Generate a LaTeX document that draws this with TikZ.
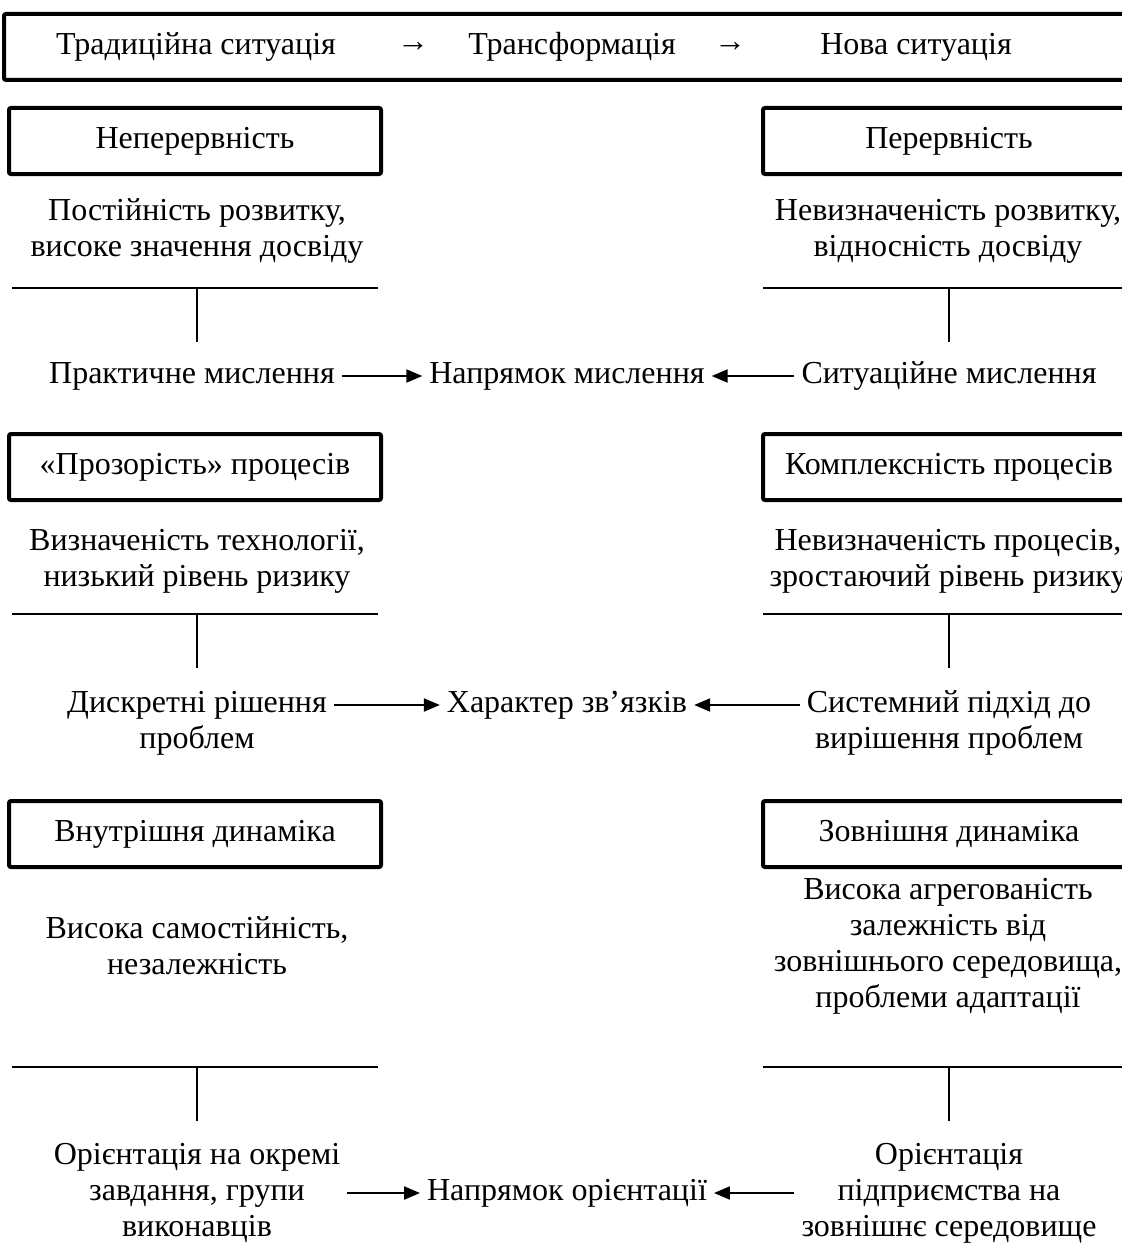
\documentclass[tikz,border=0pt]{standalone}
\usepackage{fontspec}
\setmainfont{Liberation Serif}
\usetikzlibrary{arrows.meta}

\tikzset{
  frame/.style={draw, line width=2pt, rounded corners=1pt, minimum width=186pt, minimum height=33pt},
  txt/.style={align=center},
  arr/.style={-{Triangle[length=8pt,width=6.5pt]}, line width=1pt},
  rule/.style={line width=1pt}
}

\begin{document}
\begin{tikzpicture}[x=0.5pt,y=-0.5pt,font=\fontsize{16}{18}\selectfont]

            \useasboundingbox (0,0) rectangle (1122,1252);
            \clip (0,0) rectangle (1122,1252);

            % top bar
            \node [draw, line width=2pt, rounded corners=1pt, minimum width=570pt, minimum height=33pt] (bar) at (574,47) {};
            \node [] (trad) at (196,47) {Традиційна ситуація};
            \node [] (ar1) at (413,47) {→};
            \node [] (trans) at (572,47) {Трансформація};
            \node [] (ar2) at (730,47) {→};
            \node [] (nova) at (916,47) {Нова ситуація};

            % boxes
            \node [frame] (nep) at (195,141) {Неперервність};
            \node [frame] (per) at (949,141) {Перервність};
            \node [frame] (proz) at (195,467) {«Прозорість» процесів};
            \node [frame] (kompl) at (949,467) {Комплексність процесів};
            \node [frame] (vnutr) at (195,834) {Внутрішня динаміка};
            \node [frame] (zovn) at (949,834) {Зовнішня динаміка};

            % descriptions
            \node [txt] (post) at (197,231) {Постійність розвитку,\\високе значення досвіду};
            \node [txt] (nevr) at (948,231) {Невизначеність розвитку,\\відносність досвіду};
            \node [txt] (vyzn) at (197,561) {Визначеність технології,\\низький рівень ризику};
            \node [txt] (nevp) at (948,561) {Невизначеність процесів,\\зростаючий рівень ризику};
            \node [txt] (samo) at (197,946) {Висока самостійність,\\незалежність};
            \node [txt] (agr) at (948,946) {Висока агрегованість\\залежність від\\зовнішнього середовища,\\проблеми адаптації};

            % rules under descriptions
            \draw[rule] (12,288) -- (378,288);
            \draw[rule] (197,288) -- (197,342);
            \draw[rule] (763,288) -- (1140,288);
            \draw[rule] (949,288) -- (949,342);

            \draw[rule] (12,614) -- (378,614);
            \draw[rule] (197,614) -- (197,668);
            \draw[rule] (763,614) -- (1140,614);
            \draw[rule] (949,614) -- (949,668);

            \draw[rule] (12,1067) -- (378,1067);
            \draw[rule] (197,1067) -- (197,1121);
            \draw[rule] (763,1067) -- (1140,1067);
            \draw[rule] (949,1067) -- (949,1121);

            % rows with arrows
            \node [] (prak) at (192,376) {Практичне мислення};
            \node [] (napm) at (567,376) {Напрямок мислення};
            \node [] (sit) at (949,376) {Ситуаційне мислення};
            \draw[arr] (prak) -- (napm);
            \draw[arr] (sit) -- (napm);

            \node [txt] (disk) at (197,723) {Дискретні рішення\\проблем};
            \node [] (xar) at (567,705) {Характер зв’язків};
            \node [txt] (sys) at (949,723) {Системний підхід до\\вирішення проблем};
            \draw[arr] (disk.east |- xar) -- (xar);
            \draw[arr] (sys.west |- xar) -- (xar);

            \node [txt] (orl) at (197,1193) {Орієнтація на окремі\\завдання, групи\\виконавців};
            \node [] (napo) at (567,1193) {Напрямок орієнтації};
            \node [txt] (orr) at (949,1193) {Орієнтація\\підприємства на\\зовнішнє середовище};
            \draw[arr] (orl) -- (napo);
            \draw[arr] (orr) -- (napo);

        \end{tikzpicture}
\end{document}
